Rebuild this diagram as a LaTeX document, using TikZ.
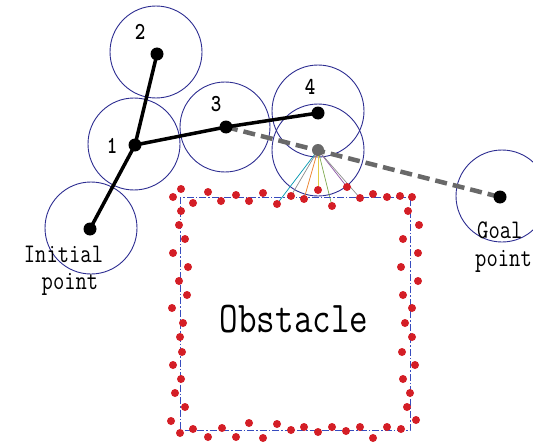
\documentclass[tikz,border=0pt]{standalone}
\usepackage{graphicx}
\definecolor{ringblue}{RGB}{45,45,145}
\definecolor{dotred}{RGB}{212,30,38}
\definecolor{edgeblue}{RGB}{55,75,190}
\definecolor{pathgray}{RGB}{105,105,105}
\definecolor{rayteal}{RGB}{0,150,175}
\definecolor{raygray}{RGB}{140,140,140}
\definecolor{rayorange}{RGB}{235,125,35}
\definecolor{rayyellow}{RGB}{225,205,70}
\definecolor{rayolive}{RGB}{120,165,70}
\definecolor{raypurple}{RGB}{140,85,165}
\newcommand{\tallglyphs}[1]{\scalebox{1}[1.22]{#1}}
\tikzset{
  waypt/.style={circle, fill=black, inner sep=0pt, minimum size=13pt},
  ghostpt/.style={circle, fill=pathgray, inner sep=0pt, minimum size=12pt},
  ring/.style={draw=ringblue, line width=0.9pt},
  route/.style={line width=3.5pt, black},
  probe/.style={line width=4.5pt, pathgray, dash pattern=on 12pt off 6pt},
  sample/.style={circle, fill=dotred, inner sep=0pt, minimum size=8pt},
  boundary/.style={draw=edgeblue, line width=0.9pt, dash pattern=on 7pt off 2pt on 1.5pt off 2pt},
  ray/.style={line width=0.7pt},
  idx/.style={font=\fontsize{20}{20}\selectfont\ttfamily\bfseries, inner sep=0pt, anchor=base},
  caption/.style={font=\fontsize{22}{24}\selectfont\ttfamily, inner sep=0pt, anchor=base}
}
\begin{document}
\begin{tikzpicture}[x=1pt,y=-1pt]
\useasboundingbox (0,0) rectangle (533,444);

% key positions of the search
\coordinate (c0) at (90,229);
\coordinate (c1) at (135,145);
\coordinate (c2) at (157,54);
\coordinate (c3) at (226,127);
\coordinate (c4) at (318,113);
\coordinate (cg) at (318,150);
\coordinate (cgoal) at (500,197);

% range circles
\draw[ring] (91,228) circle[radius=46];
\draw[ring] (134,144) circle[radius=46];
\draw[ring] (156,52) circle[radius=46];
\draw[ring] (225,127) circle[radius=45];
\draw[ring] (318,111) circle[radius=46];
\draw[ring] (318,150) circle[radius=46];
\draw[ring] (502,196) circle[radius=46];

% obstacle boundary samples (top edge named for the rays)
\foreach \x/\y [count=\i] in {173/197,181/189,193/203,208/192,221/201,236/195,249/201,263/193,277/204,291/196,304/199,318/190,332/206,347/187,360/198,373/194,387/197,400/196,412/197}
  \coordinate (t\i) at (\x,\y);

% sensing rays from the probe point
\draw[ray, rayteal]   (cg) -- (t9);
\draw[ray, raygray]   (cg) -- (t10);
\draw[ray, rayorange] (cg) -- (t11);
\draw[ray, rayyellow] (cg) -- (t12);
\draw[ray, rayolive]  (cg) -- (t13);
\draw[ray, raypurple] (cg) -- (t14);
\draw[ray, raygray]   (cg) -- (t15);

% obstacle outline
\draw[boundary] (180,197) rectangle (410,430);

% paths
\draw[probe] (c3) -- (cgoal);
\draw[route] (c0) -- (c1) -- (c2);
\draw[route] (c1) -- (c3) -- (c4);

% sample dots
\foreach \i in {1,...,19}
  \node[sample] (top\i) at (t\i) {};
\foreach \x/\y [count=\i] in {408/211,419/225,403/239,418/253,401/267,418/281,403/295,412/308,405/323,412/337,402/352,415/365,403/379,410/393,407/407,416/420}
  \node[sample] (right\i) at (\x,\y) {};
\foreach \x/\y [count=\i] in {180/433,193/429,208/437,222/428,236/437,249/423,263/438,277/424,291/430,304/427,318/432,332/427,346/431,360/427,373/438,387/427,401/429}
  \node[sample] (bottom\i) at (\x,\y) {};
\foreach \x/\y [count=\i] in {181/211,179/225,185/239,173/253,188/267,179/281,187/295,172/308,183/323,180/337,182/352,173/365,181/379,175/393,185/407,171/421}
  \node[sample] (left\i) at (\x,\y) {};

% waypoints
\node[waypt] (p0) at (c0) {};
\node[waypt] (p1) at (c1) {};
\node[waypt] (p2) at (c2) {};
\node[waypt] (p3) at (c3) {};
\node[waypt] (p4) at (c4) {};
\node[ghostpt] (pg) at (cg) {};
\node[waypt] (pgoal) at (cgoal) {};

% labels
\node[idx] (n1) at (112,153) {\tallglyphs{1}};
\node[idx] (n2) at (140,40) {\tallglyphs{2}};
\node[idx] (n3) at (216,111) {\tallglyphs{3}};
\node[idx] (n4) at (310,95) {\tallglyphs{4}};

\node[caption] (init1) at (63.5,262) {\tallglyphs{Initial}};
\node[caption] (init2) at (70,289) {\tallglyphs{point}};
\node[caption, anchor=base west] (goal1) at (477,238) {\tallglyphs{Goal}};
\node[caption, anchor=base west] (goal2) at (475,266) {\tallglyphs{point}};

\node[font=\fontsize{36}{40}\selectfont\ttfamily, inner sep=0pt, anchor=base] (obs) at (294,332) {\tallglyphs{Obstacle}};
\end{tikzpicture}
\end{document}
